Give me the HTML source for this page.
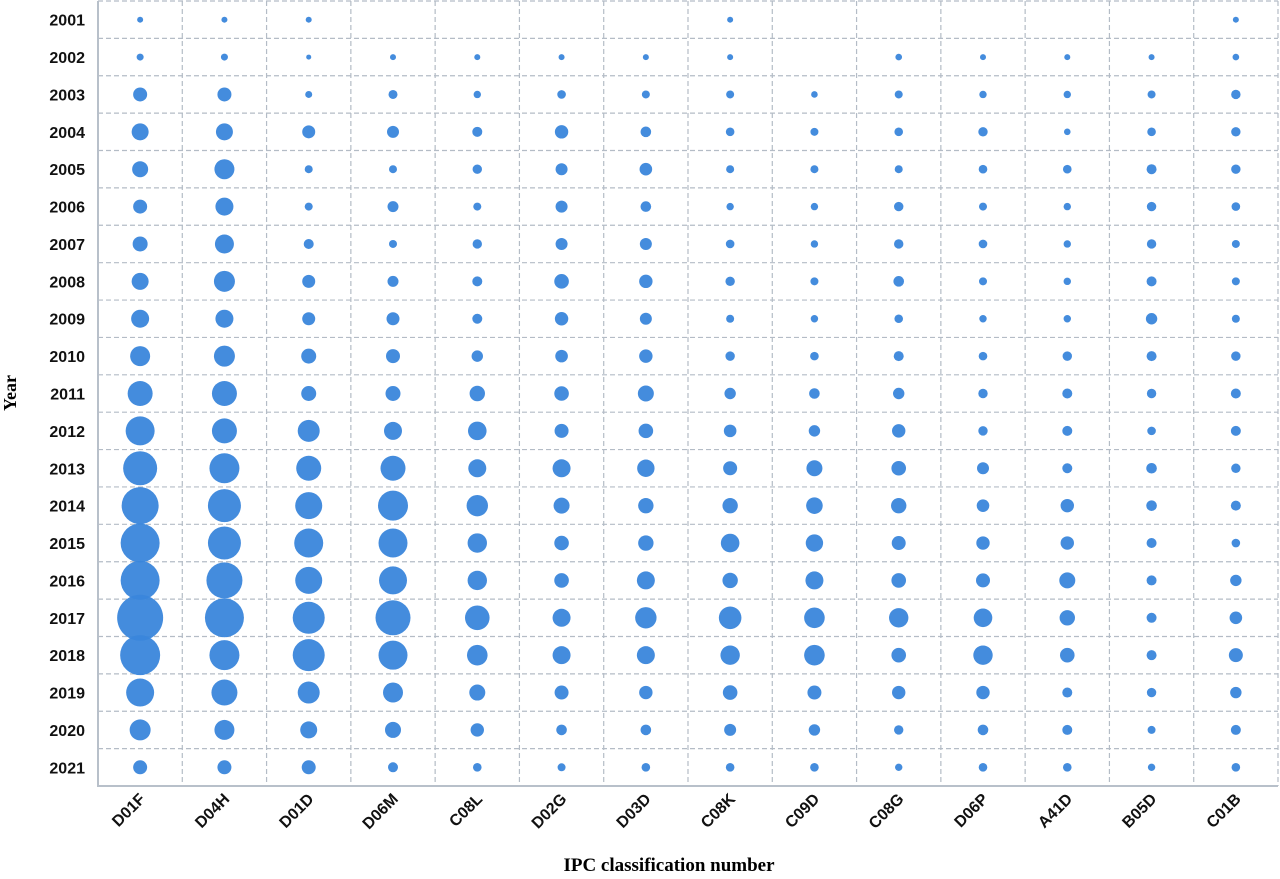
<!DOCTYPE html>
<html><head><meta charset="utf-8"><style>
body{margin:0;background:#fff;width:1280px;height:874px;overflow:hidden}
svg text{font-family:"Liberation Sans",Arial,sans-serif}
</style></head><body>
<svg id="chart" width="1280" height="874" viewBox="0 0 1280 874" xmlns="http://www.w3.org/2000/svg">
<g id="grid"></g>
<g id="axes"></g>
<g id="bubbles"></g>
<g id="labels"></g>
<text x="0" y="0" transform="translate(16,393) rotate(-90)" text-anchor="middle" style="font-family:'Liberation Serif',serif;font-weight:bold;font-size:18px">Year</text>
<text x="669" y="871" text-anchor="middle" style="font-family:'Liberation Serif',serif;font-weight:bold;font-size:19px">IPC classification number</text>
</svg>
<script>
const categories = ["D01F","D04H","D01D","D06M","C08L","D02G","D03D","C08K","C09D","C08G","D06P","A41D","B05D","C01B"];
const years = ["2001","2002","2003","2004","2005","2006","2007","2008","2009","2010","2011","2012","2013","2014","2015","2016","2017","2018","2019","2020","2021"];
// bubble size (radius units) per category, per year
const D01F = [3,3.5,7,8.5,8,7,7.5,8.5,9,10,12.5,14.5,17,18.5,19.5,19.5,23,20,14,10.5,7];
const D04H = [3,3.5,7,8.5,10,9,9.5,10.5,9,10.5,12.5,12.5,15,16.5,16.5,18,19.5,15,13,10,7];
const D01D = [3,2.5,3.5,6.5,4,4,5,6.5,6.5,7.5,7.5,11,12.5,13.5,14.5,13.5,16,16,11,8.5,7];
const D06M = [0,3,4.5,6,4,5.5,4,5.5,6.5,7,7.5,9,12.5,15,14.5,14,17.5,14.5,10,8,5];
const C08L = [0,3,3.7,5,4.7,4,4.7,5,5,5.7,7.7,9.3,9,10.7,9.7,9.7,12.3,10.3,8,6.7,4.3];
const D02G = [0,3,4.3,6.7,6,6,6,7.3,6.7,6.3,7.3,7,9,8,7.3,7.3,9,9,7,5.3,4];
const D03D = [0,3,4,5.3,6.3,5.3,6,6.7,6,6.7,8,7.3,8.7,7.7,7.7,9,10.7,9,6.7,5.3,4.3];
const C08K = [3,3,4,4.3,4,3.7,4.3,4.7,4,4.7,5.7,6.3,7,7.7,9.3,7.7,11.3,9.7,7.3,6,4.3];
const C09D = [0,0,3.3,4,4,3.7,3.7,4,3.7,4.3,5.3,5.7,8,8.3,8.7,9,10.3,10.3,7,5.7,4.3];
const C08G = [0,3.3,4,4.3,4,4.7,4.7,5.3,4.3,5,5.7,6.7,7.3,7.7,7,7.3,9.7,7.3,6.7,4.7,3.7];
const D06P = [0,3,3.7,4.7,4.3,4,4.3,4,3.7,4.3,4.7,4.7,6,6.3,6.7,7,9.3,9.7,6.7,5.3,4.3];
const A41D = [0,3,3.7,3.3,4.3,3.7,3.7,3.7,3.7,4.7,5,5,5,6.7,6.7,8,7.7,7.3,5,5,4.3];
const B05D = [0,3,4,4.3,5,4.7,4.7,5,5.7,5,4.7,4.3,5.3,5.3,5,5,5,5,4.7,4,3.7];
const C01B = [3,3.3,4.7,4.7,4.7,4.3,4,4,4,4.7,5,5,4.7,5,4.3,5.7,6.3,7,5.7,5,4.3];
const series = [D01F,D04H,D01D,D06M,C08L,D02G,D03D,C08K,C09D,C08G,D06P,A41D,B05D,C01B];

const NS="http://www.w3.org/2000/svg";
const L=98,R=1278,T=1,B=786;
const cw=(R-L)/categories.length, rh=(B-T)/years.length;
const xPos=i=>L+cw*(i+0.5);
const yPos=j=>T+rh*(j+0.5);
const rScale=v=>v;
function mk(tag,attrs,parent){const e=document.createElementNS(NS,tag);for(const k in attrs)e.setAttribute(k,attrs[k]);parent.appendChild(e);return e;}
const grid=document.getElementById('grid'),axes=document.getElementById('axes'),bub=document.getElementById('bubbles'),lab=document.getElementById('labels');
for(let i=1;i<=categories.length;i++){
  const ln=mk('line',{x1:L+cw*i,x2:L+cw*i,y1:T,y2:B,stroke:'#b4bcc6','stroke-width':1.2,'stroke-dasharray':'5,3'},grid);
  
  
}
for(let j=0;j<years.length;j++){
  const ln=mk('line',{x1:L,x2:R,y1:T+rh*j,y2:T+rh*j,stroke:'#b4bcc6','stroke-width':1.2,'stroke-dasharray':'5,3'},grid);
  
  
}
const ax1=mk('line',{x1:L,x2:L,y1:T,y2:B+1,stroke:'#b8c0ca','stroke-width':2},axes);


const ax2=mk('line',{x1:L,x2:R,y1:B,y2:B,stroke:'#b8c0ca','stroke-width':2},axes);


series.forEach((s,i)=>{s.forEach((v,j)=>{
  if(v<=0)return;
  const c=mk('circle',{cx:xPos(i),cy:yPos(j),r:rScale(v),fill:'#3a86db','fill-opacity':0.95},bub);
  
  
});});
years.forEach((y,j)=>{
  const t=mk('text',{x:85,y:yPos(j)+6,'text-anchor':'end','font-size':'16','font-weight':'bold',fill:'#111'},lab);
  t.textContent=y;
  
  
});
categories.forEach((c,i)=>{
  const x=xPos(i)+6,y=800;
  const t=mk('text',{x:x,y:y,'text-anchor':'end','font-size':'16','font-weight':'bold',fill:'#111',transform:'rotate(-45 '+x+' '+y+')'},lab);
  t.textContent=c;
  
  
});
</script>
</body></html>
